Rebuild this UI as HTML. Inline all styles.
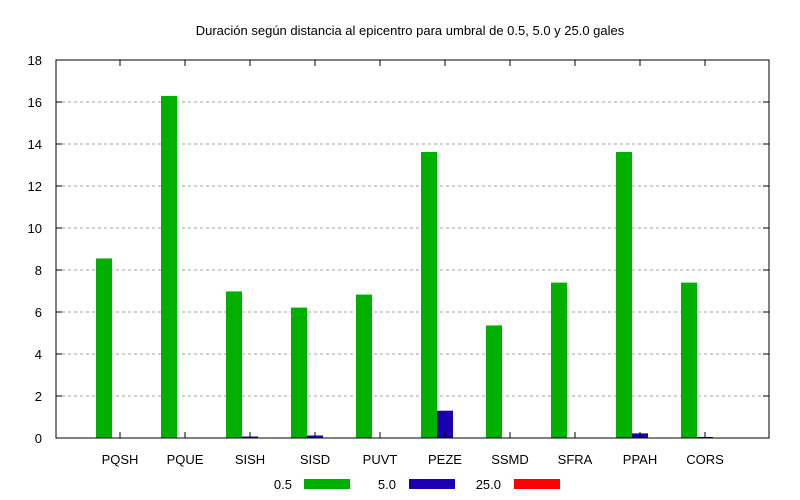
<!DOCTYPE html>
<html><head><meta charset="utf-8"><style>body{margin:0;background:#fff}svg{display:block}text{font-family:"Liberation Sans",sans-serif;font-size:13px;fill:#000}</style></head>
<body>
<svg id="chart" width="800" height="500" xmlns="http://www.w3.org/2000/svg">
<text x="410" y="35" text-anchor="middle">Duración según distancia al epicentro para umbral de 0.5, 5.0 y 25.0 gales</text>
<g id="grid"></g><g id="bars"></g><g id="axes"></g>
<g>
<text x="292" y="489" text-anchor="end">0.5</text>
<rect x="304" y="479" width="46" height="10" fill="#00b000"/>
<text x="396" y="489" text-anchor="end">5.0</text>
<rect x="409" y="479" width="46" height="10" fill="#1a00b0"/>
<text x="501" y="489" text-anchor="end">25.0</text>
<rect x="514" y="479" width="46" height="10" fill="#ff0000"/>
</g>
</svg>
<script>
const categories=["PQSH","PQUE","SISH","SISD","PUVT","PEZE","SSMD","SFRA","PPAH","CORS"];
const series05=[8.55,16.29,6.98,6.21,6.83,13.62,5.36,7.4,13.62,7.4];
const series50=[0,0,0.07,0.12,0,1.3,0,0,0.22,0.05];
const series250=[0,0,0,0,0,0,0,0,0,0];
const yTicks=[0,2,4,6,8,10,12,14,16,18];
const NS="http://www.w3.org/2000/svg";
const L=56,R=769,T=60,B=438,yMax=18;
const y=v=>B-(v/yMax)*(B-T);
const xc=i=>120+65*i;
const bw=16;
function mk(tag,attrs,parent,txt){const e=document.createElementNS(NS,tag);for(const k in attrs)e.setAttribute(k,attrs[k]);if(txt!==undefined)e.textContent=txt;parent.appendChild(e);return e;}
const grid=document.getElementById('grid'),bars=document.getElementById('bars'),axes=document.getElementById('axes');
yTicks.forEach(t=>{
 if(t>0&&t<yMax){const g=mk('line',{x1:L,x2:R,y1:y(t),y2:y(t),stroke:'#a0a0a0','stroke-dasharray':'3,3','stroke-width':1},grid);
 
 }
 const tl=mk('text',{x:42,y:y(t)+5,'text-anchor':'end'},axes,String(t));
 
 
 const tk1=mk('line',{x1:L,x2:L+6,y1:y(t),y2:y(t),stroke:'#000'},axes);
 
 
 const tk2=mk('line',{x1:R-6,x2:R,y1:y(t),y2:y(t),stroke:'#000'},axes);
 
 
});
const sets=[[series05,'#00b000',-1,'0.5'],[series50,'#1a00b0',0,'5.0'],[series250,'#ff0000',1,'25.0']];
categories.forEach((c,i)=>{
 sets.forEach(([arr,col,off,nm])=>{
  const v=arr[i];if(v<=0)return;
  const r=mk('rect',{x:xc(i)-bw/2+off*bw,y:y(v),width:bw,height:B-y(v),fill:col},bars);
  
  
 });
 const lb=mk('text',{x:xc(i),y:464,'text-anchor':'middle'},axes,c);
 
 
 const t1=mk('line',{x1:xc(i),x2:xc(i),y1:B,y2:B-6,stroke:'#000'},axes);
 
 
 const t2=mk('line',{x1:xc(i),x2:xc(i),y1:T,y2:T+6,stroke:'#000'},axes);
 
 
});
const fr=mk('rect',{x:L,y:T,width:R-L,height:B-T,fill:'none',stroke:'#000','stroke-width':1},axes);


</script>
</body></html>
